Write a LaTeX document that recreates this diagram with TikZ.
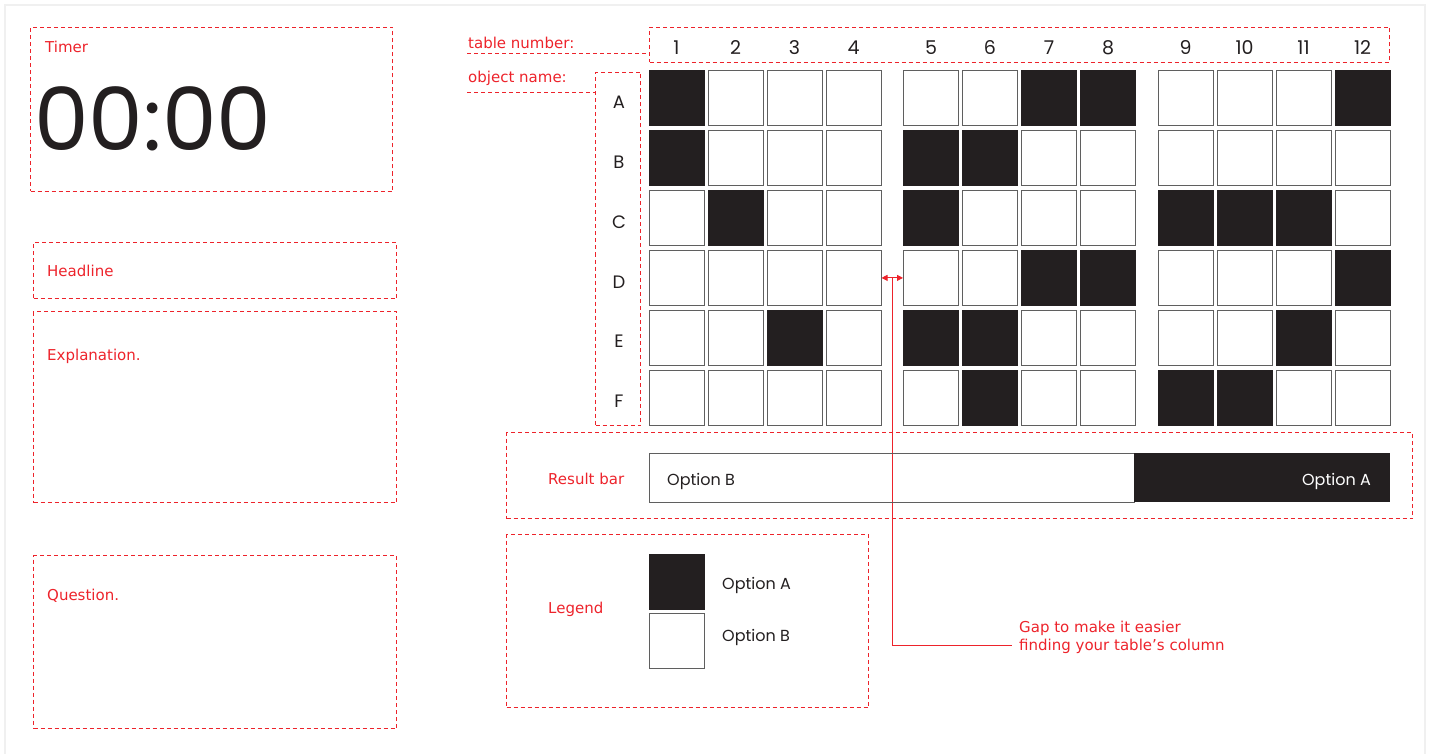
\documentclass[tikz,border=0pt]{standalone}
\usepackage{fontspec}
\setmainfont{Poppins}
\newfontfamily\notefont{DejaVu Sans}
\usetikzlibrary{arrows.meta}

\definecolor{guidered}{RGB}{237,35,43}
\definecolor{optA}{RGB}{35,31,32}
\definecolor{cellgray}{RGB}{95,95,95}
\definecolor{framegray}{RGB}{240,240,240}

\tikzset{
  guide/.style={draw=guidered, dash pattern=on 4pt off 3pt, line width=1pt, inner sep=0pt},
  note/.style={text=guidered, font=\notefont\fontsize{15}{18}\selectfont, inner sep=0pt, anchor=base west},
  cell/.style={draw=cellgray, line width=1pt, minimum size=55pt, inner sep=0pt},
  black/.style={fill=optA, draw=optA},
  optlabel/.style={font=\fontsize{16}{19}\selectfont, text=optA, inner sep=0pt},
  gapline/.style={draw=guidered, line width=0.9pt}
}

\begin{document}
\begin{tikzpicture}[x=1pt, y=-1pt]
    \useasboundingbox (0,0) rectangle (1434,754);
    % light page frame
    \draw[framegray, line width=2pt] (5,760) -- (5,5) -- (1425,5) -- (1425,760);

    % left column of guide boxes
    \node[guide, anchor=north west, minimum width=362, minimum height=164] (timer) at (30,27) {};
    \node[note] at (45,53) {Timer};
    \node[anchor=base west, inner sep=0pt, text=optA, font=\fontsize{87}{87}\selectfont] (clock) at (34,151) {00:00};

    \node[guide, anchor=north west, minimum width=363, minimum height=56] (headline) at (33,242) {};
    \node[note] at (47,276) {Headline};

    \node[guide, anchor=north west, minimum width=363, minimum height=191] (explain) at (33,311) {};
    \node[note] at (47,360) {Explanation.};

    \node[guide, anchor=north west, minimum width=363, minimum height=173] (question) at (33,555) {};
    \node[note] at (47,600) {Question.};

    % table numbers and object names
    \node[guide, anchor=north west, minimum width=740, minimum height=35] (tables) at (649,27) {};
    \node[note] (tablelbl) at (468,49) {table number:};
    \draw[guidered, dash pattern=on 4pt off 3pt, line width=1pt] (467,54) -- (tables.west |- 0,54);

    \node[guide, anchor=north west, minimum width=45, minimum height=353] (objects) at (595,72) {};
    \node[note] (objectlbl) at (468,83) {object name:};
    \draw[guidered, dash pattern=on 4pt off 3pt, line width=1pt] (467,93) -- (objects.west |- 0,93);

    % the grid of cells
    \foreach \c in {1,...,12} {
        \pgfmathsetmacro\x{676.5+(\c-1)*59+int((\c-1)/4)*18.5}
        \node[font=\fontsize{19}{22}\selectfont, text=optA, inner sep=0pt] (num-\c) at (\x,47.5) {\c};
        \foreach \r/\i in {A/0,B/1,C/2,D/3,E/4,F/5} {
            \pgfmathsetmacro\y{98.5+\i*59.8}
            \node[cell] (cell-\r-\c) at (\x,\y) {};
        }
    }
    \foreach \r/\i in {A/0,B/1,C/2,D/3,E/4,F/5} {
        \pgfmathsetmacro\y{102.5+\i*59.8}
        \node[font=\fontsize{18}{21}\selectfont, text=optA, inner sep=0pt] (row-\r) at (619,\y) {\r};
    }

    % cells answered with option A
    \foreach \r/\c in {A/1,A/7,A/8,A/12,B/1,B/5,B/6,C/2,C/5,C/9,C/10,C/11,
                       D/7,D/8,D/12,E/3,E/5,E/6,E/11,F/6,F/9,F/10}
        \fill[optA] (cell-\r-\c.south west) rectangle (cell-\r-\c.north east);

    % gap between groups of tables
    \draw[gapline, {Triangle[length=6pt,width=6pt]}-{Triangle[length=6pt,width=6pt]}] (cell-D-4.east) -- (cell-D-5.west) coordinate[midway] (gapmid);
    \coordinate (noteend) at (1012,645);
    \node[note] (gapnote) at (1019,632) {Gap to make it easier};
    \node[note] (gapnote2) at (1019,650) {finding your table’s column};
    \draw[gapline] (gapmid) |- (noteend);

    % result bar
    \node[guide, anchor=north west, minimum width=906, minimum height=86] (result) at (506,432) {};
    \node[note] at (548,484) {Result bar};
    \node[draw=cellgray, line width=1pt, anchor=north west, minimum width=485, minimum height=49] (barB) at (649,453) {};
    \node[fill=optA, anchor=north west, minimum width=256, minimum height=49] (barA) at (1134,453) {};
    \node[optlabel, anchor=base west] at (667,485) {Option B};
    \node[optlabel, anchor=base east, text=white] at (1371,485) {Option A};

    % legend
    \node[guide, anchor=north west, minimum width=362, minimum height=173] (legend) at (506,534) {};
    \node[note] at (548,613) {Legend};
    \node[cell, black] (keyA) at (676.5,581.5) {};
    \node[cell] (keyB) at (676.5,641) {};
    \node[optlabel, anchor=base west] at (722,589) {Option A};
    \node[optlabel, anchor=base west] at (722,641) {Option B};
\end{tikzpicture}
\end{document}
